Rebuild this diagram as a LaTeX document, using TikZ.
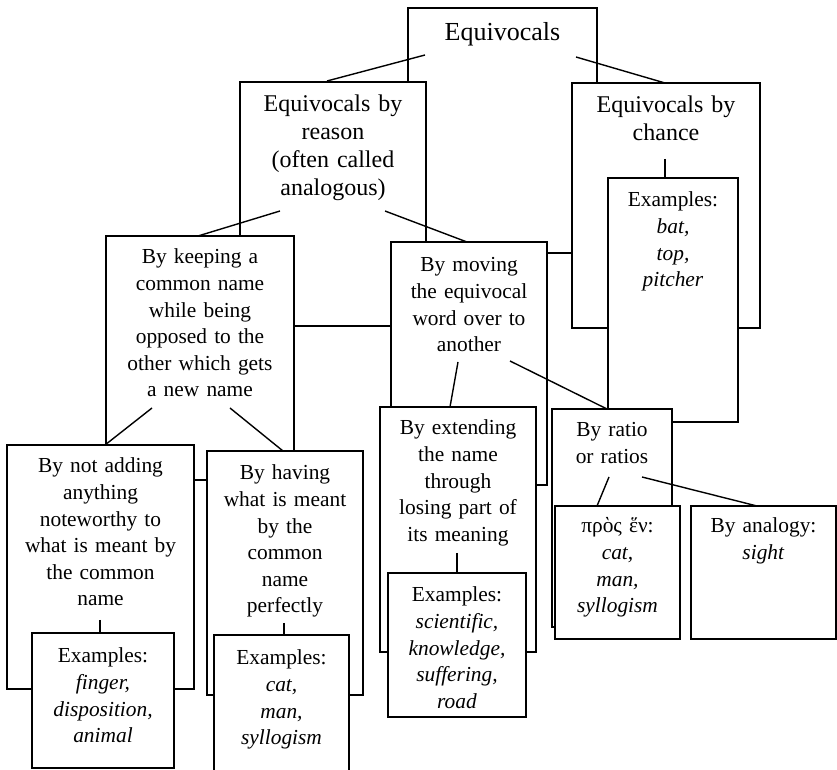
\documentclass[tikz,border=0pt]{standalone}
\usepackage{fontspec}
\setmainfont{Liberation Serif}
\usetikzlibrary{fit}
\begin{document}
\begin{tikzpicture}[x=0.5pt,y=-0.5pt,
  box/.style={draw, fill=white, line width=0.9pt, inner sep=0pt, outer sep=0pt},
  txt/.style={anchor=base, align=center, inner sep=0pt, text width=110pt,
              font=\fontsize{10.7}{13.3}\selectfont},
  midtxt/.style={txt, font=\fontsize{12}{14}\selectfont},
  ttl/.style={txt, font=\fontsize{13}{15}\selectfont},
  link/.style={line width=0.7pt}]
\useasboundingbox (0,0) rectangle (837,770);
\clip (0,0) rectangle (837,770);

% boxes and their texts, back to front
\node[box, fit={(408,8) (597,253)}] (eq) {};
\node[ttl] (eqT) at (502.5,41) {Equivocals};

\node[box, fit={(240,82) (426,326)}] (rea) {};
\node[midtxt] (reaT) at (333,112) {Equivocals by\\reason\\(often called\\analogous)};

\node[box, fit={(572,83) (760,328)}] (cha) {};
\node[midtxt] (chaT) at (666,113) {Equivocals by\\chance};

\node[box, fit={(608,178) (738,422)}] (bat) {};
\node[txt] (batT) at (673,207) {Examples:\\\textit{bat,}\\\textit{top,}\\\textit{pitcher}};

\node[box, fit={(106,236) (294,480)}] (kee) {};
\node[txt] (keeT) at (200,264) {By keeping a\\common name\\while being\\opposed to the\\other which gets\\a new name};

\node[box, fit={(391,242) (547,485)}] (mov) {};
\node[txt] (movT) at (469,272) {By moving\\the equivocal\\word over to\\another};

\node[box, fit={(7,445) (194,689)}] (nad) {};
\node[txt] (nadT) at (100.5,473) {By not adding\\anything\\noteworthy to\\what is meant by\\the common\\name};

\node[box, fit={(207,451) (363,695)}] (hav) {};
\node[txt] (havT) at (285,480) {By having\\what is meant\\by the\\common\\name\\perfectly};

\node[box, fit={(32,633) (174,768)}] (fin) {};
\node[txt] (finT) at (103,663) {Examples:\\\textit{finger,}\\\textit{disposition,}\\\textit{animal}};

\node[box, fit={(214,635) (349,778)}] (cat) {};
\node[txt] (catT) at (281.5,665) {Examples:\\\textit{cat,}\\\textit{man,}\\\textit{syllogism}};

\node[box, fit={(380,407) (536,652)}] (ext) {};
\node[txt] (extT) at (458,435) {By extending\\the name\\through\\losing part of\\its meaning};

\node[box, fit={(388,573) (526,717)}] (sci) {};
\node[txt] (sciT) at (457,602) {Examples:\\\textit{scientific,}\\\textit{knowledge,}\\\textit{suffering,}\\\textit{road}};

\node[box, fit={(552,409) (672,627)}] (rat) {};
\node[txt] (ratT) at (612,437) {By ratio\\or ratios};

\node[box, fit={(555,506) (680,639)}] (pro) {};
\node[txt] (proT) at (617.5,533) {πρὸς ἕν:\\\textit{cat,}\\\textit{man,}\\\textit{syllogism}};

\node[box, fit={(691,506) (836,639)}] (ana) {};
\node[txt] (anaT) at (763.5,533) {By analogy:\\\textit{sight}};

% connector end points
\coordinate (a1) at (425,55);  \coordinate (b1) at (327,81);
\coordinate (a2) at (576,57);  \coordinate (b2) at (665,83);
\coordinate (a3) at (665,159); \coordinate (b3) at (665,178);
\coordinate (a4) at (280,211); \coordinate (b4) at (198,236);
\coordinate (a5) at (385,211); \coordinate (b5) at (467,242);
\coordinate (a6) at (152,408); \coordinate (b6) at (105,445);
\coordinate (a7) at (230,408); \coordinate (b7) at (283,451);
\coordinate (a8) at (458,362); \coordinate (b8) at (450,407);
\coordinate (a9) at (510,361); \coordinate (b9) at (607,409);
\coordinate (a10) at (609,477); \coordinate (b10) at (597,506);
\coordinate (a11) at (642,477); \coordinate (b11) at (757,506);
\coordinate (a12) at (100,620); \coordinate (b12) at (100,633);
\coordinate (a13) at (284,623); \coordinate (b13) at (284,635);
\coordinate (a14) at (457,553); \coordinate (b14) at (457,573);

\foreach \i in {1,...,14} { \draw[link] (a\i) -- (b\i); }
\end{tikzpicture}
\end{document}
